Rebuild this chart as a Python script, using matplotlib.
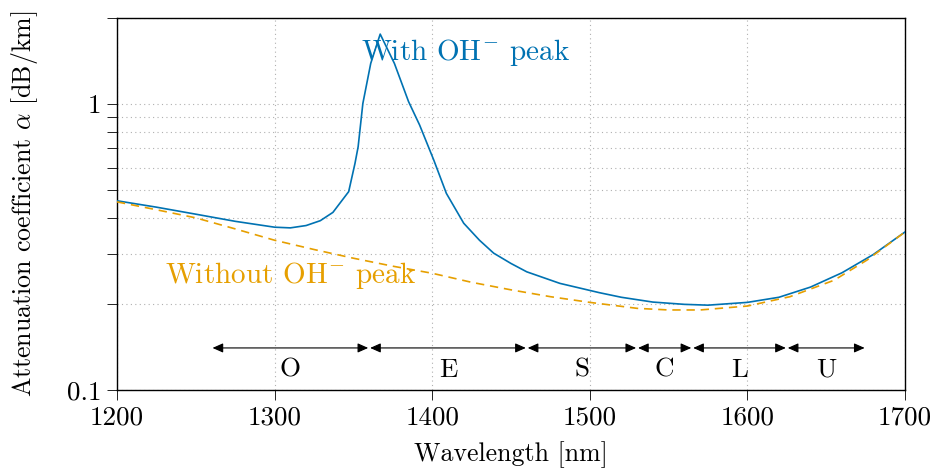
import matplotlib
matplotlib.use("Agg")
import matplotlib.pyplot as plt
from matplotlib.ticker import FixedLocator, FixedFormatter, NullFormatter

plt.rcParams['font.family'] = ['cmr10', 'DejaVu Serif']
plt.rcParams['mathtext.fontset'] = 'cm'
plt.rcParams['axes.unicode_minus'] = False
plt.rcParams['axes.formatter.use_mathtext'] = True

# ---- data ----
wl_oh = [1200, 1225, 1250, 1275, 1300, 1310, 1320, 1329, 1337, 1347, 1351, 1353,
         1356, 1361, 1367, 1376, 1385, 1392, 1401, 1409, 1420, 1430, 1439,
         1450, 1460, 1481, 1506, 1520, 1540, 1560, 1575, 1600, 1620, 1640,
         1660, 1680, 1700]
att_oh = [0.459, 0.436, 0.412, 0.389, 0.371, 0.369, 0.376, 0.391, 0.418, 0.494,
          0.620, 0.709, 1.005, 1.388, 1.757, 1.388, 1.020, 0.845, 0.637, 0.487,
          0.383, 0.334, 0.301, 0.277, 0.259, 0.236, 0.219, 0.211, 0.203, 0.1993,
          0.198, 0.2025, 0.211, 0.229, 0.257, 0.298, 0.357]

wl_dry = [1200, 1225, 1250, 1275, 1300, 1325, 1350, 1375, 1400, 1425, 1450, 1475,
          1500, 1530, 1550, 1570, 1600, 1627, 1655, 1676, 1700]
att_dry = [0.455, 0.427, 0.400, 0.366, 0.334, 0.310, 0.289, 0.271, 0.256, 0.238,
           0.224, 0.212, 0.2025, 0.193, 0.1905, 0.1905, 0.1966, 0.212, 0.242,
           0.285, 0.357]

band_names = ['O', 'E', 'S', 'C', 'L', 'U']
band_start = [1260, 1360, 1460, 1530, 1565, 1625]
band_end = [1360, 1460, 1530, 1565, 1625, 1675]

y_ticks = [0.1, 1]
y_ticklabels = ['0.1', '1']
x_ticks = [1200, 1300, 1400, 1500, 1600, 1700]

blue = '#0072B2'
orange = '#E69F00'

fig = plt.figure(figsize=(9.33, 4.68), dpi=100)
ax = fig.add_axes([0.1254, 0.1667, 0.8446, 0.7948])

ax.plot(wl_oh, att_oh, color=blue, lw=1.2, zorder=3)
ax.plot(wl_dry, att_dry, color=orange, lw=1.2, ls=(0, (5, 3.5)), zorder=3)

ax.set_yscale('log')
ax.set_xlim(1200, 1700)
ax.set_ylim(0.1, 2.0)

ax.yaxis.set_major_locator(FixedLocator(y_ticks))
ax.yaxis.set_major_formatter(FixedFormatter(y_ticklabels))
ax.yaxis.set_minor_locator(FixedLocator([0.2, 0.3, 0.4, 0.5, 0.6, 0.7, 0.8, 0.9, 2.0]))
ax.yaxis.set_minor_formatter(NullFormatter())
ax.set_xticks(x_ticks)
ax.set_xticklabels([str(v) for v in x_ticks])

ax.grid(True, which='major', axis='both', color='#b0b0b0', ls=(0, (1, 3)), lw=0.8)
ax.grid(True, which='minor', axis='y', color='#b0b0b0', ls=(0, (1, 3)), lw=0.8)

ax.tick_params(which='both', direction='out', length=7.5, width=0.6, labelsize=19.5,
               top=False, right=False, pad=4)
for s in ax.spines.values():
    s.set_linewidth(1.0)

ax.set_xlabel('Wavelength [nm]', fontsize=18.6, labelpad=8)
ax.set_ylabel(r'Attenuation coefficient $\alpha$ [dB/km]', fontsize=18.6, labelpad=19)

arrow_y = 0.1403
label_y = 0.1175
for name, s, e in zip(band_names, band_start, band_end):
    ax.annotate('', xy=(e, arrow_y), xytext=(s, arrow_y),
                arrowprops=dict(arrowstyle='<|-|>,head_length=0.45,head_width=0.2',
                                color='black', lw=0.8, shrinkA=0.7, shrinkB=0.7,
                                mutation_scale=14))
    ax.text((s + e) / 2, label_y, name, ha='center', va='center', fontsize=19.5)

ax.text(1421, 1.52, r'With OH$^{-}$ peak', color=blue, ha='center', va='center',
        fontsize=21)
ax.text(1310, 0.252, r'Without OH$^{-}$ peak', color=orange, ha='center',
        va='center', fontsize=21)

fig.savefig('out.png', dpi=100)
